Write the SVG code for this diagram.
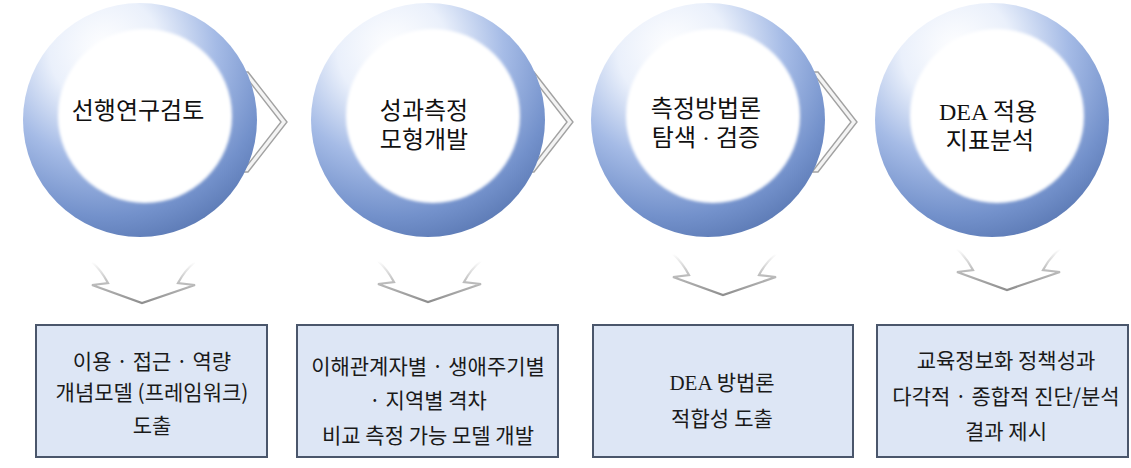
<svg xmlns="http://www.w3.org/2000/svg" width="1131" height="468" viewBox="0 0 1131 468">
<style>
.ring{fill:url(#ringGrad)}
.inner{fill:#ffffff;filter:url(#soft)}
.ctext{font-family:"Liberation Serif","Noto Sans CJK KR",serif;font-size:24px;fill:#111111;text-anchor:middle}
.box{fill:#dde6f5;stroke:#4a566b;stroke-width:2}
.btext{font-family:"Noto Sans CJK KR","Liberation Sans",sans-serif;font-size:21px;fill:#1a1a1a;text-anchor:middle}
.btext3{font-family:"Liberation Serif","Noto Sans CJK KR",serif;font-size:21px;fill:#1a1a1a;text-anchor:middle}
.chev{fill:#f4f4f4;stroke:#a2a2a2;stroke-width:1.4;stroke-linejoin:miter}
.down{fill:#ffffff;stroke:url(#downGrad);stroke-width:2.2;stroke-linejoin:miter}
</style>
<defs>
<radialGradient id="ringGrad" cx="0.35" cy="0.2" r="0.95">
<stop offset="0" stop-color="#ffffff"/>
<stop offset="0.25" stop-color="#eaf0fb"/>
<stop offset="0.5" stop-color="#a5bbe6"/>
<stop offset="0.75" stop-color="#7391cb"/>
<stop offset="1" stop-color="#4c6aa5"/>
</radialGradient>
<linearGradient id="downGrad" x1="0" y1="0" x2="0" y2="1">
<stop offset="0" stop-color="#ffffff"/>
<stop offset="0.45" stop-color="#c4c4c4"/>
<stop offset="1" stop-color="#8e8e8e"/>
</linearGradient>
<filter id="soft" x="-10%" y="-10%" width="120%" height="120%">
<feGaussianBlur stdDeviation="1.5"/>
</filter>
</defs>

<g id="connectors">
<polygon class="chev" points="248,72 287,122 248,172 242,172 281,122 242,72"/>
<polygon class="chev" points="534,72 573,122 534,172 528,172 567,122 528,72"/>
<polygon class="chev" points="818,72 857,122 818,172 812,172 851,122 812,72"/>
<path class="down" d="M92,262 Q101,270 108,283 L92,285 L142,303 L195,285 L178,283 Q185,270 195,262"/>
<path class="down" d="M378,261 Q387,269 394,282 L378,284 L428,302 L481,284 L464,282 Q471,269 481,261"/>
<path class="down" d="M673,254 Q682,262 689,275 L673,277 L723,295 L776,277 L759,275 Q766,262 776,254"/>
<path class="down" d="M957,249 Q966,257 973,270 L957,272 L1007,290 L1060,272 L1043,270 Q1050,257 1060,249"/>
</g>

<g id="step1">
<circle class="ring" cx="140" cy="120" r="117"/>
<circle class="inner" cx="145" cy="116" r="87"/>
<text class="ctext" x="138" y="119">선행연구검토</text>
</g>
<g id="step2">
<circle class="ring" cx="428" cy="120" r="117"/>
<circle class="inner" cx="433" cy="116" r="87"/>
<text class="ctext" x="424" y="119">성과측정</text>
<text class="ctext" x="424" y="148">모형개발</text>
</g>
<g id="step3">
<circle class="ring" cx="708" cy="120" r="117"/>
<circle class="inner" cx="713" cy="116" r="87"/>
<text class="ctext" x="706" y="117">측정방법론</text>
<text class="ctext" x="706" y="146">탐색 · 검증</text>
</g>
<g id="step4">
<circle class="ring" cx="992" cy="120" r="117"/>
<circle class="inner" cx="997" cy="116" r="87"/>
<text class="ctext" x="988" y="120">DEA 적용</text>
<text class="ctext" x="990" y="149">지표분석</text>
</g>

<g id="result1">
<rect class="box" x="36" y="325" width="231" height="132"/>
<text class="btext" x="152" y="369">이용 · 접근 · 역량</text>
<text class="btext" x="152" y="400">개념모델 (프레임워크)</text>
<text class="btext" x="152" y="433">도출</text>
</g>
<g id="result2">
<rect class="box" x="297" y="325" width="261" height="132"/>
<text class="btext" x="428" y="374">이해관계자별 · 생애주기별</text>
<text class="btext" x="428" y="408">· 지역별 격차</text>
<text class="btext" x="428" y="443">비교 측정 가능 모델 개발</text>
</g>
<g id="result3">
<rect class="box" x="593" y="325" width="260" height="132"/>
<text class="btext3" x="722" y="390">DEA 방법론</text>
<text class="btext3" x="722" y="426">적합성 도출</text>
</g>
<g id="result4">
<rect class="box" x="877" y="325" width="251" height="132"/>
<text class="btext" x="1006" y="368">교육정보화 정책성과</text>
<text class="btext" x="1006" y="404">다각적 · 종합적 진단/분석</text>
<text class="btext" x="1006" y="439">결과 제시</text>
</g>
</svg>
